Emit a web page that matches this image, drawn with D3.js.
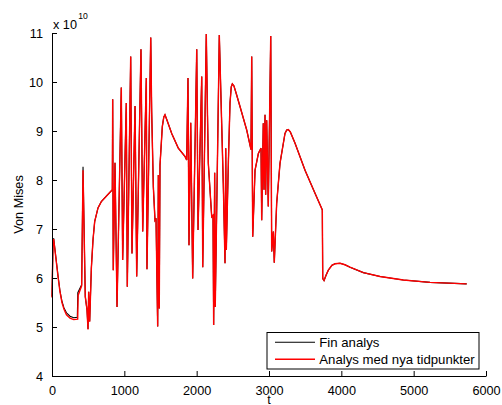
<!DOCTYPE html>
<html><head><meta charset="utf-8">
<script src="https://cdn.jsdelivr.net/npm/d3@7"></script>
<style>body{margin:0;background:#fff}svg{display:block}text{font-family:"Liberation Sans",Arial,sans-serif;fill:#000}</style>
</head><body><svg id="c" width="502" height="405"></svg>
<script>
// Values in units of 1e10
const xTicks = [0,1000,2000,3000,4000,5000,6000];
const yTicks = [4,5,6,7,8,9,10,11];
const seriesNames = ["Fin analys","Analys med nya tidpunkter"];

// early part (differs slightly between the two analyses)
const blackEarlyT = [0,15,24,50,83,110,138,166,200,249,300,350,357,410,429,460,484,498,507,521];
const blackEarlyV = [5.62,6.80,6.80,6.47,6.05,5.74,5.52,5.39,5.29,5.22,5.19,5.20,5.70,5.86,8.27,5.62,5.35,4.96,5.72,5.12];
const redEarlyT = [0,15,24,50,83,110,138,166,200,249,300,355,362,410,429,460,484,498,507,521];
const redEarlyV = [5.60,6.78,6.78,6.45,6.03,5.72,5.50,5.36,5.25,5.18,5.15,5.16,5.65,5.84,8.20,5.62,5.35,4.95,5.72,5.11];

// common part
const sharedT = [544,567,590,636,682,751,820,834,839,847,871,899,958,977,1027,1041,1088,1106,1148,1171,1230,1254,1304,1313,1365,1378,1401,1424,1438,1461,1470,1483,1493,1525,1545,1562,1590,1655,1746,1839,1862,1880,1894,1918,1945,2001,2019,2070,2084,2133,2150,2161,2208,2226,2235,2249,2257,2313,2368,2392,2402,2410,2438,2461,2478,2493,2515,2550,2599,2692,2751,2761,2775,2807,2853,2890,2899,2921,2931,2945,2954,2968,2990,3024,3037,3060,3073,3106,3152,3221,3245,3267,3295,3360,3498,3636,3737,3743,3761,3790,3820,3870,3913,3982,4050,4120,4304,4535,4857,5226,5733];
const sharedV = [6.20,6.78,7.15,7.43,7.56,7.67,7.78,7.80,9.65,6.16,8.35,5.41,9.89,6.37,9.57,5.82,10.52,6.50,9.51,6.03,10.67,6.95,10.08,6.18,10.91,9.40,7.86,7.18,7.22,5.01,8.10,5.38,8.30,9.09,9.28,9.33,9.22,8.95,8.65,8.48,8.41,10.08,6.67,9.17,5.99,10.67,6.98,10.11,6.22,10.98,9.30,8.34,7.25,7.28,5.04,8.15,5.41,10.96,7.93,6.30,8.65,6.57,8.34,9.57,9.90,9.96,9.92,9.75,9.50,9.02,8.62,10.52,6.84,8.20,8.54,8.65,7.18,9.16,7.80,9.33,7.70,9.22,7.46,10.94,6.54,6.95,6.31,7.52,8.34,8.95,9.02,9.03,8.98,8.75,8.20,7.73,7.39,5.99,5.95,6.06,6.16,6.26,6.29,6.30,6.27,6.22,6.11,6.03,5.96,5.91,5.88];

const blackT = blackEarlyT.concat(sharedT), blackV = blackEarlyV.concat(sharedV);
const redT = redEarlyT.concat(sharedT), redV = redEarlyV.concat(sharedV);

const svg = d3.select("#c");
const L=52, R=486, T=33, B=376;
const x = d3.scaleLinear().domain([0,6000]).range([L,R]);
const y = d3.scaleLinear().domain([4,11]).range([B,T]);

const line = d3.line().x(d=>x(d[0])).y(d=>y(d[1]));
svg.append("path").datum(blackT.map((t,i)=>[t,blackV[i]])).attr("d",line)
  .attr("fill","none").attr("stroke","#000").attr("stroke-width",1.1);
svg.append("path").datum(redT.map((t,i)=>[t,redV[i]])).attr("d",line)
  .attr("fill","none").attr("stroke","#ff0000").attr("stroke-width",1.4).attr("stroke-linejoin","miter").attr("stroke-miterlimit",4);

// axes
const xAxis = svg.append("g").attr("transform",`translate(0,${B})`)
  .call(d3.axisBottom(x).tickValues(xTicks).tickFormat(d3.format("d")).tickSizeInner(-5).tickSizeOuter(0).tickPadding(10));
const yAxis = svg.append("g").attr("transform",`translate(${L},0)`)
  .call(d3.axisLeft(y).tickValues(yTicks).tickFormat(d3.format("d")).tickSizeInner(-5).tickSizeOuter(0).tickPadding(9));
[xAxis,yAxis].forEach(g=>{
  g.select(".domain").attr("stroke","#000").attr("stroke-width",1);
  g.selectAll(".tick line").attr("stroke","#000");
  g.selectAll("text").attr("font-size","12.7px").attr("font-family","Liberation Sans, Arial, sans-serif").attr("fill","#000");
});

// exponent
svg.append("text").attr("x",53).attr("y",28.5).attr("font-size","12.7px").text("x 10");
svg.append("text").attr("x",78.3).attr("y",19).attr("font-size","8.6px").text("10");

// axis labels
svg.append("text").attr("transform",`translate(23,${(T+B)/2}) rotate(-90)`).attr("text-anchor","middle")
  .attr("font-size","12.7px").text("Von Mises");
svg.append("text").attr("x",(L+R)/2).attr("y",403.5).attr("text-anchor","middle").attr("font-size","12.7px").text("t");

// legend
const lg = svg.append("g");
lg.append("rect").attr("x",267).attr("y",332.5).attr("width",212).attr("height",36.5)
  .attr("fill","#fff").attr("stroke","#000").attr("stroke-width",1);
const colors=["#000","#ff0000"], rows=[342.3,359.3];
seriesNames.forEach((n,i)=>{
  lg.append("line").attr("x1",275).attr("x2",315).attr("y1",rows[i]).attr("y2",rows[i])
    .attr("stroke",colors[i]).attr("stroke-width",i?1.4:1.1);
  lg.append("text").attr("x",319.3).attr("y",rows[i]).attr("dy","0.36em").attr("font-size","13.2px").text(n);
});
</script></body></html>
